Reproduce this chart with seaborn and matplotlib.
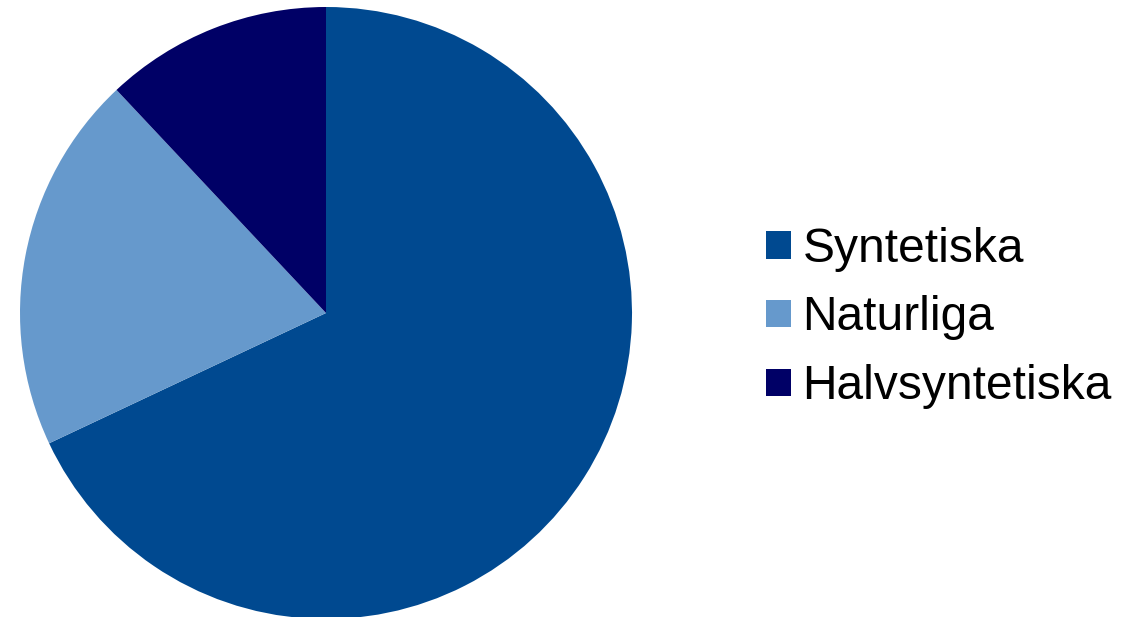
import matplotlib
matplotlib.use("Agg")
import matplotlib.pyplot as plt
import seaborn as sns
from matplotlib.patches import Patch

categories = ["Syntetiska", "Naturliga", "Halvsyntetiska"]
values = [68, 20, 12]
colors = ["#004990", "#6699CC", "#000066"]

sns.set_theme(style="white")
plt.rcParams['font.family'] = ['Liberation Sans', 'DejaVu Sans']

W, H = 1137, 617
fig = plt.figure(figsize=(W / 100, H / 100), dpi=100)
fig.patch.set_facecolor("white")

cx, cy, r = 326, 313, 306
ax = fig.add_axes([(cx - r) / W, (H - cy - r) / H, 2 * r / W, 2 * r / H])
palette = sns.color_palette(colors)
ax.pie(values, colors=palette, startangle=90, counterclock=False,
       radius=1, wedgeprops=dict(linewidth=0, edgecolor="none"))
ax.set_xlim(-1, 1)
ax.set_ylim(-1, 1)
ax.set_aspect("equal")
ax.axis("off")

handles = [Patch(facecolor=c, edgecolor="none") for c in palette]
fs = 34.5
fig.legend(handles, categories, loc="center left",
           bbox_to_anchor=(766 / W, 1 - 318 / H), frameon=False,
           fontsize=fs, handlelength=0.52, handleheight=0.52,
           handletextpad=0.24, labelspacing=0.5, borderpad=0,
           borderaxespad=0, labelcolor="black")

fig.savefig("out.png", dpi=100, facecolor="white")
